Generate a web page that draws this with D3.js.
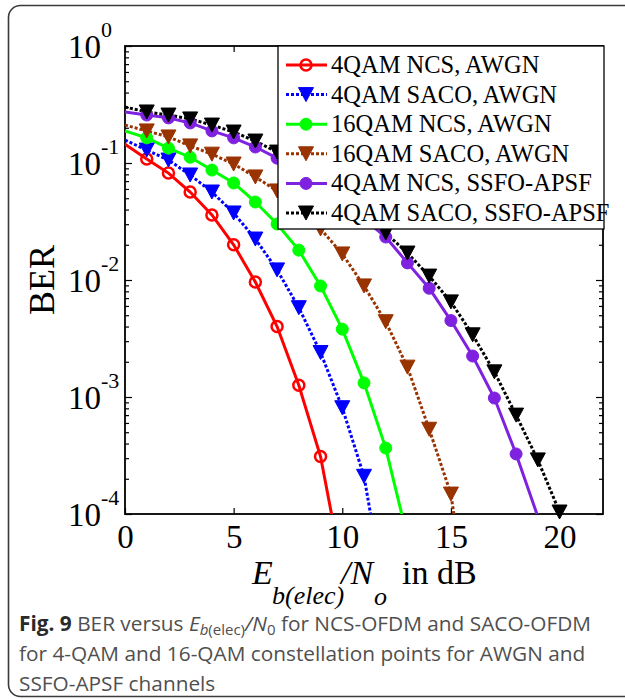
<!DOCTYPE html>
<html>
<head>
<meta charset="utf-8">
<script src="https://cdn.jsdelivr.net/npm/d3@7"></script>
<style>
  body { margin: 0; background: #fff; }
  .serif { font-family: "Liberation Serif", "Times New Roman", serif; }
</style>
</head>
<body>
<svg id="chart" width="625" height="699"></svg>
<script>
// Eb/N0 in dB, one point per dB
const snr = d3.range(0, 21);

// BER values
const ncs4Awgn   = [0.145, 0.108, 0.082, 0.0565, 0.036, 0.020, 0.0096, 0.0040, 0.00126, 3.1e-4, 3.3e-5];
const saco4Awgn  = [0.157, 0.129, 0.106, 0.079, 0.0565, 0.0374, 0.0224, 0.0122, 0.0058, 0.0024, 8.1e-4, 2.1e-4, 1.8e-5];
const ncs16Awgn  = [0.188, 0.164, 0.134, 0.112, 0.087, 0.0675, 0.0464, 0.0301, 0.018, 0.0089, 0.0038, 0.00132, 3.66e-4, 6.3e-5];
const saco16Awgn = [0.211, 0.188, 0.167, 0.14, 0.119, 0.098, 0.076, 0.0577, 0.0412, 0.0273, 0.0167, 0.0089, 0.0044, 0.0018, 5.3e-4, 1.48e-4, 8e-6];
const ncs4Ssfo   = [0.273, 0.257, 0.243, 0.22, 0.188, 0.164, 0.137, 0.110, 0.0855, 0.0636, 0.0464, 0.0332, 0.0233, 0.014, 0.0085, 0.0045, 0.00224, 9.8e-4, 3.26e-4, 9.5e-5];
const saco4Ssfo  = [0.301, 0.273, 0.257, 0.238, 0.211, 0.184, 0.154, 0.124, 0.096, 0.0716, 0.0522, 0.0367, 0.0252, 0.017, 0.0108, 0.0065, 0.0034, 0.00164, 7.0e-4, 2.9e-4, 1.04e-4];

const labels = ['4QAM NCS, AWGN', '4QAM SACO, AWGN', '16QAM NCS, AWGN',
                '16QAM SACO, AWGN', '4QAM NCS, SSFO-APSF', '4QAM SACO, SSFO-APSF'];
const xTicks = [0, 5, 10, 15, 20];
const yTicks = [1e-4, 1e-3, 1e-2, 1e-1, 1];
const yExponents = ['-4', '-3', '-2', '-1', '0'];

const series = [
  { values: ncs4Awgn,   color: '#ff0000', dash: null,  marker: 'ring' },
  { values: saco4Awgn,  color: '#0000ff', dash: '3,2', marker: 'tri' },
  { values: ncs16Awgn,  color: '#00ff00', dash: null,  marker: 'dot' },
  { values: saco16Awgn, color: '#993300', dash: '3,2', marker: 'tri' },
  { values: ncs4Ssfo,   color: '#7f22e0', dash: null,  marker: 'dot' },
  { values: saco4Ssfo,  color: '#000000', dash: '3,2', marker: 'tri' }
];

const svg = d3.select('#chart');
const plotL = 125, plotR = 603, plotT = 46, plotB = 514;

const x = d3.scaleLinear().domain([0, 22]).range([plotL, plotR]);
const y = d3.scaleLog().domain([1e-4, 1]).range([plotB, plotT]);

// outer rounded frame of the figure panel
svg.append('rect')
  .attr('x', 8.5).attr('y', 5.5)
  .attr('width', 700).attr('height', 691)
  .attr('rx', 12)
  .attr('fill', 'none')
  .attr('stroke', '#3a3a3a')
  .attr('stroke-width', 1.6);

svg.append('clipPath').attr('id', 'plot-clip')
  .append('rect')
  .attr('x', plotL).attr('y', plotT)
  .attr('width', plotR - plotL).attr('height', plotB - plotT);

// minor ticks for log axis
const minors = [];
for (let e = -4; e < 0; e++) {
  for (let k = 2; k <= 9; k++) minors.push(k * Math.pow(10, e));
}

const axisG = svg.append('g').attr('class', 'axes');

axisG.append('g')
  .attr('transform', `translate(0,${plotB})`)
  .call(d3.axisBottom(x).tickValues(xTicks).tickSize(-6).tickSizeOuter(0).tickPadding(11));
axisG.append('g')
  .attr('transform', `translate(0,${plotT})`)
  .call(d3.axisTop(x).tickValues(xTicks).tickSize(-6).tickSizeOuter(0).tickFormat(''));
axisG.append('g')
  .attr('transform', `translate(${plotL},0)`)
  .call(d3.axisLeft(y).tickValues(yTicks).tickSize(-7).tickSizeOuter(0).tickFormat(''));
axisG.append('g')
  .attr('transform', `translate(${plotR},0)`)
  .call(d3.axisRight(y).tickValues(yTicks).tickSize(-7).tickSizeOuter(0).tickFormat(''));
axisG.append('g')
  .attr('transform', `translate(${plotL},0)`)
  .call(d3.axisLeft(y).tickValues(minors).tickSize(-4).tickSizeOuter(0).tickFormat(''));
axisG.append('g')
  .attr('transform', `translate(${plotR},0)`)
  .call(d3.axisRight(y).tickValues(minors).tickSize(-4).tickSizeOuter(0).tickFormat(''));

axisG.selectAll('.domain').remove();
axisG.selectAll('.tick line').attr('stroke', '#000').attr('stroke-width', 1.2);
axisG.selectAll('.tick text')
  .attr('class', 'serif')
  .attr('font-size', 33)
  .attr('fill', '#000');

svg.append('rect')
  .attr('x', plotL).attr('y', plotT)
  .attr('width', plotR - plotL).attr('height', plotB - plotT)
  .attr('fill', 'none')
  .attr('stroke', '#000')
  .attr('stroke-width', 1.8);

// y tick labels as 10^n
yTicks.forEach((v, i) => {
  svg.append('text')
    .attr('class', 'serif')
    .attr('x', 101).attr('y', y(v) + 12)
    .attr('text-anchor', 'end')
    .attr('font-size', 33)
    .text('10');
  svg.append('text')
    .attr('class', 'serif')
    .attr('x', 101).attr('y', y(v) - 9)
    .attr('font-size', 22)
    .text(yExponents[i]);
});

// curves
const line = d3.line()
  .x((d, i) => x(snr[i]))
  .y(d => y(d));

const plot = svg.append('g').attr('clip-path', 'url(#plot-clip)');
series.forEach(s => {
  plot.append('path')
    .datum(s.values)
    .attr('fill', 'none')
    .attr('stroke', s.color)
    .attr('stroke-width', 3)
    .attr('stroke-dasharray', s.dash)
    .attr('d', line);
});

function drawMarker(g, type, color, cx, cy) {
  if (type === 'tri') {
    const w = 7.5, h = 7;
    g.append('path')
      .attr('d', `M${cx - w},${cy - h}L${cx + w},${cy - h}L${cx},${cy + h}Z`)
      .attr('fill', color)
      .attr('stroke', color)
      .attr('stroke-width', 1);
  } else {
    g.append('circle')
      .attr('cx', cx).attr('cy', cy)
      .attr('r', type === 'ring' ? 5.5 : 6)
      .attr('fill', type === 'ring' ? 'none' : color)
      .attr('stroke', color)
      .attr('stroke-width', type === 'ring' ? 2.5 : 1);
  }
}

const markers = svg.append('g');
series.forEach(s => {
  s.values.forEach((v, i) => {
    if (i === 0 || v < 1e-4) return;
    drawMarker(markers, s.marker, s.color, x(snr[i]), y(v));
  });
});

// legend
const lg = svg.append('g');
lg.append('rect')
  .attr('x', 278).attr('y', 46)
  .attr('width', 326).attr('height', 183)
  .attr('fill', '#fff')
  .attr('stroke', '#000')
  .attr('stroke-width', 1.3);
series.forEach((s, i) => {
  const cy = 65 + i * 29.6;
  lg.append('line')
    .attr('x1', 286).attr('x2', 327)
    .attr('y1', cy).attr('y2', cy)
    .attr('stroke', s.color)
    .attr('stroke-width', 3)
    .attr('stroke-dasharray', s.dash);
  drawMarker(lg, s.marker, s.color, 306, cy);
  lg.append('text')
    .attr('class', 'serif')
    .attr('x', 331).attr('y', cy + 8)
    .attr('font-size', 24.5)
    .text(labels[i]);
});

// axis titles
svg.append('text')
  .attr('class', 'serif')
  .attr('transform', `translate(54,${(plotT + plotB) / 2}) rotate(-90)`)
  .attr('text-anchor', 'middle')
  .attr('font-size', 36)
  .text('BER');

const xl = svg.append('g').attr('class', 'serif');
xl.append('text').attr('x', 252).attr('y', 584).attr('font-size', 34).attr('font-style', 'italic').text('E');
xl.append('text').attr('x', 272).attr('y', 604).attr('font-size', 26).attr('font-style', 'italic').text('b(elec)');
xl.append('text').attr('x', 341).attr('y', 584).attr('font-size', 34).attr('font-style', 'italic').text('/N');
xl.append('text').attr('x', 374).attr('y', 605).attr('font-size', 26).attr('font-style', 'italic').text('o');
xl.append('text').attr('x', 402).attr('y', 584).attr('font-size', 34).text('in dB');

// caption
const cap = svg.append('g')
  .attr('font-family', '"Open Sans", "Noto Sans", sans-serif')
  .attr('font-size', 20.8)
  .attr('fill', '#4f4f4f');
const l1 = cap.append('text').attr('x', 19).attr('y', 631);
l1.append('tspan').attr('font-weight', 'bold').attr('fill', '#2a2a2a').text('Fig. 9');
l1.append('tspan').text(' BER versus ');
l1.append('tspan').attr('font-style', 'italic').text('E');
l1.append('tspan').attr('font-style', 'italic').attr('font-size', 15).attr('dy', 4).text('b');
l1.append('tspan').attr('font-size', 15).text('(elec)');
l1.append('tspan').attr('font-style', 'italic').attr('dy', -4).text('/N');
l1.append('tspan').attr('font-size', 15).attr('dy', 4).text('0');
l1.append('tspan').attr('dy', -4).text(' for NCS-OFDM and SACO-OFDM');
cap.append('text').attr('x', 19).attr('y', 661)
  .text('for 4-QAM and 16-QAM constellation points for AWGN and');
cap.append('text').attr('x', 19).attr('y', 691)
  .text('SSFO-APSF channels');
</script>
</body>
</html>
